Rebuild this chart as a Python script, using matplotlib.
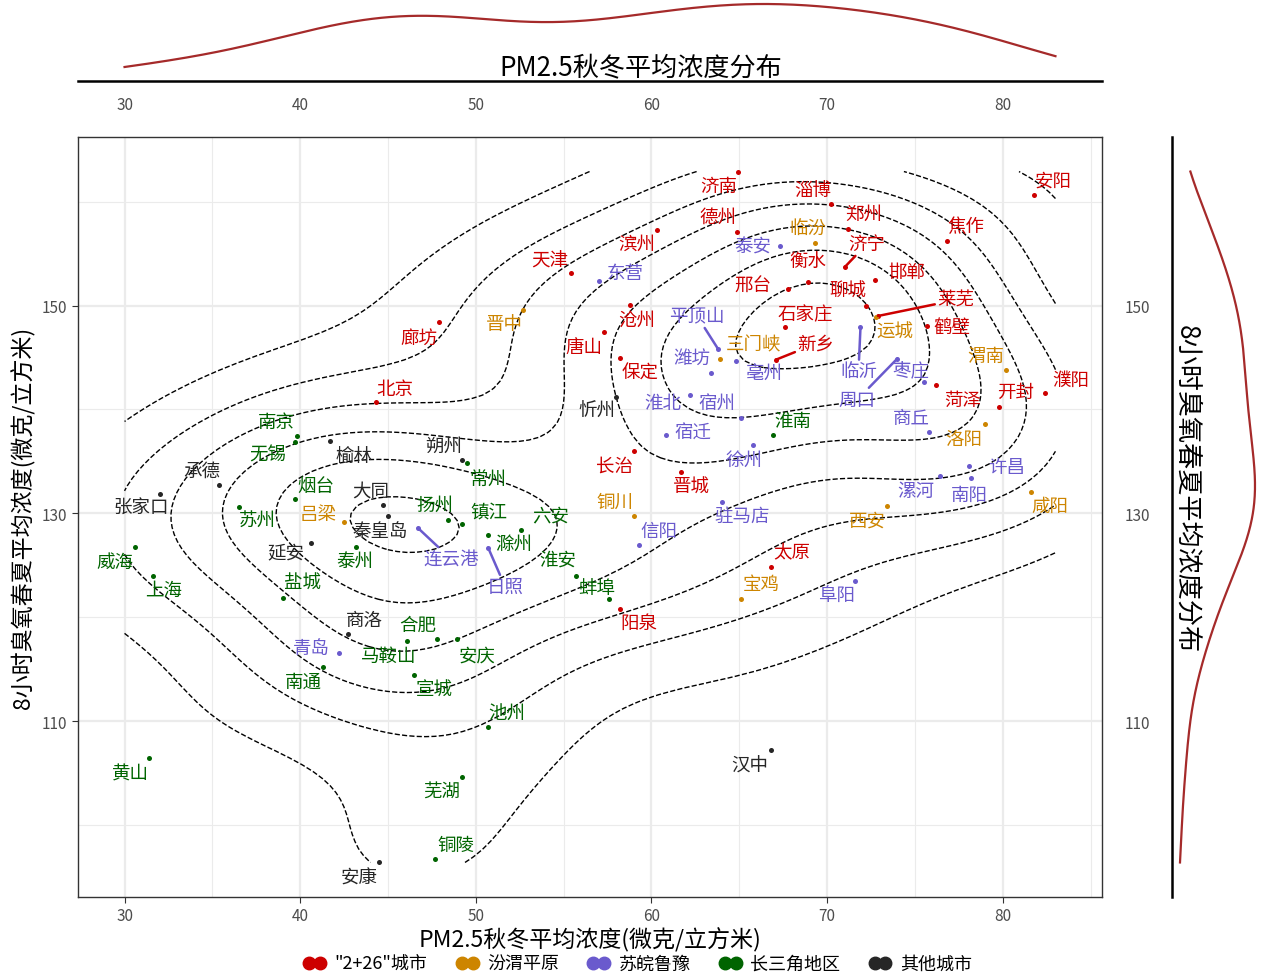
import numpy as np
import matplotlib
matplotlib.use("Agg")
import matplotlib.pyplot as plt
from matplotlib.lines import Line2D

plt.rcParams['font.family'] = ['Noto Sans CJK SC', 'DejaVu Sans']

# ---- data ----
red_city = ['济南', '德州', '滨州', '天津', '沧州', '唐山', '保定', '廊坊', '北京', '淄博',
            '郑州', '济宁', '衡水', '邢台', '邯郸', '聊城', '莱芜', '鹤壁', '石家庄', '新乡',
            '菏泽', '开封', '濮阳', '焦作', '安阳', '长治', '晋城', '阳泉', '太原']
red_pm = [64.9, 64.85, 60.3, 55.4, 58.8, 57.3, 58.2, 47.9, 44.3, 70.2,
          71.2, 71.0, 68.9, 67.8, 72.7, 72.2, 72.9, 75.7, 67.6, 67.1,
          76.2, 79.8, 82.4, 76.8, 81.8, 59.0, 61.7, 58.2, 66.8]
red_o3 = [162.9, 157.1, 157.3, 153.1, 150.1, 147.5, 145.0, 148.4, 140.7, 159.8,
          157.4, 153.7, 152.3, 151.6, 152.5, 150.0, 149.0, 148.0, 147.9, 144.8,
          142.4, 140.2, 141.6, 156.2, 160.6, 136.0, 134.0, 120.8, 124.8]

fw_city = ['临汾', '晋中', '三门峡', '运城', '渭南', '洛阳', '铜川', '西安', '咸阳', '宝鸡', '吕梁']
fw_pm = [69.3, 52.7, 63.9, 72.8, 80.2, 79.0, 59.0, 73.4, 81.6, 65.1, 42.5]
fw_o3 = [156.0, 149.6, 144.9, 148.9, 143.8, 138.6, 129.7, 130.7, 132.1, 121.8, 129.2]

sw_city = ['泰安', '东营', '平顶山', '潍坊', '亳州', '淮北', '宿州', '宿迁', '徐州', '临沂', '枣庄',
           '周口', '商丘', '漯河', '许昌', '南阳', '驻马店', '信阳', '阜阳', '连云港', '日照', '青岛']
sw_pm = [67.3, 57.0, 63.8, 63.4, 64.8, 62.2, 65.1, 60.8, 65.8, 71.9, 75.5,
         74.0, 75.8, 76.4, 78.1, 78.2, 64.0, 59.3, 71.6, 46.7, 50.7, 42.2]
sw_o3 = [155.7, 152.4, 145.8, 143.5, 144.7, 141.4, 139.2, 137.5, 136.6, 147.9, 142.6,
         144.9, 137.8, 133.6, 134.6, 133.4, 131.1, 127.0, 123.5, 128.6, 126.7, 116.6]

yrd_city = ['南京', '无锡', '烟台', '苏州', '泰州', '盐城', '威海', '上海', '扬州', '镇江', '滁州', '六安',
            '淮安', '蚌埠', '合肥', '马鞍山', '安庆', '宣城', '南通', '池州', '芜湖', '铜陵', '黄山', '淮南', '常州']
yrd_pm = [39.8, 39.7, 39.7, 36.5, 43.2, 39.0, 30.6, 31.6, 48.4, 49.2, 50.7, 52.6,
          55.7, 57.6, 47.8, 46.1, 48.9, 46.5, 41.3, 50.7, 49.2, 47.7, 31.4, 66.9, 49.5]
yrd_o3 = [137.4, 136.9, 131.4, 130.6, 126.8, 121.9, 126.8, 124.0, 129.4, 129.0, 127.9, 128.4,
          124.0, 121.8, 117.9, 117.7, 117.9, 114.4, 115.2, 109.4, 104.6, 96.7, 106.5, 137.5, 134.8]

oth_city = ['张家口', '承德', '榆林', '朔州', '大同', '秦皇岛', '延安', '商洛', '忻州', '汉中', '安康']
oth_pm = [32.0, 35.4, 41.7, 49.2, 44.7, 45.0, 40.6, 42.7, 58.0, 66.8, 44.5]
oth_o3 = [131.9, 132.7, 137.0, 135.1, 130.8, 129.7, 127.1, 118.4, 141.2, 107.2, 96.4]

groups = ['"2+26"城市', '汾渭平原', '苏皖鲁豫', '长三角地区', '其他城市']
colors = ['#CD0000', '#CD8500', '#6A5ACD', '#006400', '#262626']

# label offsets in pixels (dx, dy up), layout only
offs = {
    '济南': (-19, -14), '德州': (-19, 15), '滨州': (-20, -14), '天津': (-21, 13), '沧州': (6, -15),
    '唐山': (-20, -15), '保定': (20, -15), '廊坊': (-20, -16), '北京': (19, 13), '淄博': (-18, 14),
    '郑州': (16, 15), '济宁': (22, 23), '衡水': (0, 21), '邢台': (-36, 3), '邯郸': (32, 8),
    '聊城': (-18, 15), '莱芜': (78, 16), '鹤壁': (25, -1), '石家庄': (20, 13), '新乡': (40, 16),
    '菏泽': (27, -15), '开封': (16, 15), '濮阳': (26, 13), '焦作': (19, 15), '安阳': (19, 15),
    '长治': (-19, -15), '晋城': (10, -15), '阳泉': (19, -14), '太原': (21, 15),
    '临汾': (-7, 14), '晋中': (-19, -14), '三门峡': (34, 14), '运城': (19, -15), '渭南': (-20, 14),
    '洛阳': (-21, -15), '铜川': (-19, 15), '西安': (-19, -15), '咸阳': (19, -14), '宝鸡': (20, 15),
    '吕梁': (-26, 8),
    '泰安': (-27, 0), '东营': (26, 8), '平顶山': (-21, 33), '潍坊': (-19, 15), '亳州': (28, -13),
    '淮北': (-27, -8), '宿州': (-24, 15), '宿迁': (27, 3), '徐州': (-9, -15), '临沂': (-2, -44),
    '枣庄': (-13, 11), '周口': (-40, -41), '商丘': (-18, 14), '漯河': (-24, -15), '许昌': (37, -1),
    '南阳': (-2, -17), '驻马店': (20, -14), '信阳': (20, 14), '阜阳': (-19, -14), '连云港': (33, -31),
    '日照': (17, -39), '青岛': (-27, 5),
    '南京': (-20, 15), '无锡': (-27, -13), '烟台': (21, 13), '苏州': (19, -13), '泰州': (-2, -14),
    '盐城': (20, 15), '威海': (-20, -15), '上海': (11, -14), '扬州': (-13, 15), '镇江': (27, 11),
    '滁州': (26, -9), '六安': (29, 15), '淮安': (-18, 16), '蚌埠': (-13, 11), '合肥': (-19, 14),
    '马鞍山': (-19, -15), '安庆': (21, -17), '宣城': (20, -14), '南通': (-20, -15), '池州': (19, 14),
    '芜湖': (-20, -14), '铜陵': (20, 14), '黄山': (-19, -16), '淮南': (20, 14), '常州': (21, -16),
    '张家口': (-19, -14), '承德': (-18, 15), '榆林': (24, -15), '朔州': (-18, 15), '大同': (-12, 14),
    '秦皇岛': (-8, -15), '延安': (-25, -9), '商洛': (17, 14), '忻州': (-19, -14), '汉中': (-21, -15),
    '安康': (-20, -15),
}
seg = {'济宁', '莱芜', '新乡', '平顶山', '临沂', '周口', '连云港', '日照'}

all_city = [red_city, fw_city, sw_city, yrd_city, oth_city]
all_pm = [red_pm, fw_pm, sw_pm, yrd_pm, oth_pm]
all_o3 = [red_o3, fw_o3, sw_o3, yrd_o3, oth_o3]

x = np.concatenate([np.array(v) for v in all_pm])
y = np.concatenate([np.array(v) for v in all_o3])

# ---- figure layout ----
fig = plt.figure(figsize=(12.81, 9.78), dpi=100)
W, H = 1281, 978
ax = fig.add_axes([78 / W, 1 - 898 / H, (1102 - 78) / W, (898 - 138) / H])
ax_top = fig.add_axes([78 / W, 1 - 82 / H, (1102 - 78) / W, 82 / H])
ax_r = fig.add_axes([1172 / W, 1 - 898 / H, (W - 1172) / W, (898 - 138) / H])

xlo, xhi = 30, 83
ylo, yhi = y.min(), y.max()
xr, yr = xhi - xlo, yhi - ylo
xlim = (xlo - 0.05 * xr, xhi + 0.05 * xr)
ylim = (ylo - 0.05 * yr, yhi + 0.05 * yr)


# ---- 2d density contours (like MASS::kde2d) ----
def bw_nrd(v):
    q1, q3 = np.percentile(v, [25, 75])
    return 4 * 1.06 * min(np.std(v, ddof=1), (q3 - q1) / 1.34) * len(v) ** (-0.2)


def dnorm(u):
    return np.exp(-0.5 * u ** 2) / np.sqrt(2 * np.pi)


def pretty(lo, hi, n=10):
    cell = (hi - lo) / n
    U = 10 ** np.floor(np.log10(cell))
    unit = U
    h, h5 = 1.5, 0.5 + 1.5 * 1.5
    if 2 * U - cell < h * (cell - unit):
        unit = 2 * U
        if 5 * U - cell < h5 * (cell - unit):
            unit = 5 * U
            if 10 * U - cell < h * (cell - unit):
                unit = 10 * U
    a = np.floor(lo / unit + 1e-7)
    b = np.ceil(hi / unit - 1e-7)
    return np.arange(a, b + 1) * unit


gx = np.linspace(xlo, xhi, 100)
gy = np.linspace(ylo, yhi, 100)
hx, hy = bw_nrd(x) / 4, bw_nrd(y) / 4
zx = dnorm((gx[:, None] - x[None, :]) / hx)
zy = dnorm((gy[:, None] - y[None, :]) / hy)
z = zx @ zy.T / (len(x) * hx * hy)
levels = pretty(z.min(), z.max())
ax.contour(gx, gy, z.T, levels=levels, colors='black', linestyles='--', linewidths=1.0, zorder=2)

# ---- points and labels ----
for cities, pm, o3, col in zip(all_city, all_pm, all_o3, colors):
    ax.scatter(pm, o3, s=13, color=col, zorder=4, linewidths=0)
    for c, px, py in zip(cities, pm, o3):
        dx, dy = offs[c]
        kw = {}
        if c in seg:
            kw['arrowprops'] = dict(arrowstyle='-', color=col, lw=1.8, shrinkA=0, shrinkB=0)
        ax.annotate(c, (px, py), xytext=(dx, dy), textcoords='offset pixels',
                    ha='center', va='center', fontsize=13.3, color=col, zorder=5, **kw)

ax.set_xlim(xlim)
ax.set_ylim(ylim)
ax.set_xticks([30, 40, 50, 60, 70, 80])
ax.set_yticks([110, 130, 150])
ax.set_xticks([35, 45, 55, 65, 75, 85], minor=True)
ax.set_yticks([100, 120, 140, 160], minor=True)
ax.grid(True, which='major', color='#EBEBEB', lw=1.6, zorder=0)
ax.grid(True, which='minor', color='#EBEBEB', lw=0.8, zorder=0)
ax.set_axisbelow(True)
ax.tick_params(which='major', length=4, width=0.8, color='#333333', labelsize=11, labelcolor='#4D4D4D')
ax.tick_params(which='minor', length=0)
for s in ax.spines.values():
    s.set_color('#333333')
    s.set_linewidth(1.0)
ax.set_xlabel('PM2.5秋冬平均浓度(微克/立方米)', fontsize=16.6, labelpad=2)
ax.set_ylabel('8小时臭氧春夏平均浓度(微克/立方米)', fontsize=16.6, labelpad=5)


# ---- marginal densities ----
def kde1(v, grid):
    bw = 0.9 * min(np.std(v, ddof=1), (np.percentile(v, 75) - np.percentile(v, 25)) / 1.34) * len(v) ** (-0.2)
    return dnorm((grid[:, None] - v[None, :]) / bw).sum(axis=1) / (len(v) * bw)


tx = np.linspace(xlo, xhi, 512)
dx_ = kde1(x, tx)
R = dx_.max() - dx_.min()
ax_top.plot(tx, dx_, color='#A52A2A', lw=1.6)
ax_top.set_xlim(xlim)
ax_top.set_ylim(dx_.min() - 14 / 63 * R, dx_.max() + 5 / 63 * R)
ax_top.patch.set_alpha(0)
for k in ['top', 'left', 'right']:
    ax_top.spines[k].set_visible(False)
ax_top.spines['bottom'].set_linewidth(1.8)
ax_top.set_yticks([])
ax_top.set_xticks([30, 40, 50, 60, 70, 80])
ax_top.tick_params(axis='x', direction='in', length=0, pad=11, labelsize=11, labelcolor='#4D4D4D')
ax_top.xaxis.set_ticks_position('bottom')

ty = np.linspace(ylo, yhi, 512)
dy_ = kde1(y, ty)
R2 = dy_.max() - dy_.min()
ax_r.plot(dy_, ty, color='#A52A2A', lw=1.6)
ax_r.set_ylim(ylim)
ax_r.set_xlim(dy_.min() - 8 / 75 * R2, dy_.max() + 26 / 75 * R2)
ax_r.patch.set_alpha(0)
for k in ['top', 'bottom', 'right']:
    ax_r.spines[k].set_visible(False)
ax_r.spines['left'].set_linewidth(1.8)
ax_r.set_xticks([])
ax_r.set_yticks([110, 130, 150])
ax_r.tick_params(axis='y', length=0, pad=16, labelsize=11, labelcolor='#4D4D4D')

fig.text(0.5, 1 - 69 / H, 'PM2.5秋冬平均浓度分布', ha='center', va='center', fontsize=18.8)
fig.text(1187 / W, 0.5, '8小时臭氧春夏平均浓度分布', ha='center', va='center', fontsize=18.8, rotation=270)

# ---- legend ----
handles = [Line2D([], [], ls='none', marker='o', color=c, markersize=9) for c in colors]
fig.legend(handles, groups, loc='center', bbox_to_anchor=(0.498, 1 - 965 / H), ncol=5, frameon=False,
           numpoints=2, handlelength=1.2, handletextpad=0.5, columnspacing=1.6, fontsize=13.0,
           borderaxespad=0)

fig.savefig('out.png', dpi=100)
